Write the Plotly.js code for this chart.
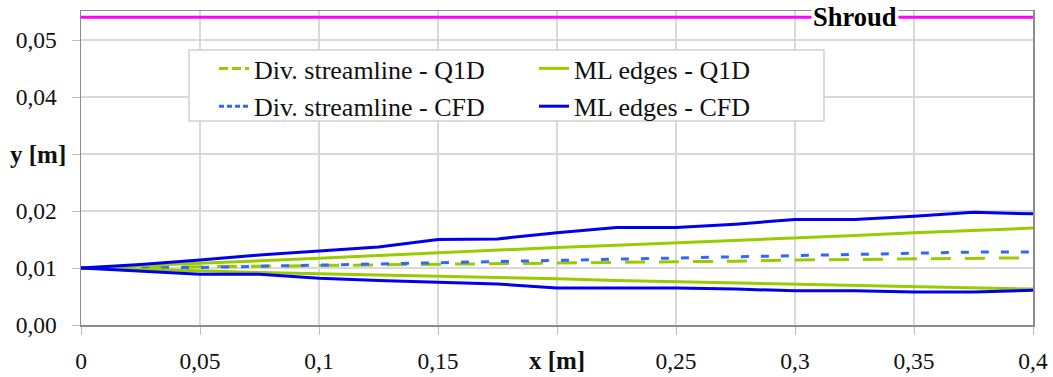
<!DOCTYPE html>
<html>
<head>
<meta charset="utf-8">
<script src="https://cdn.plot.ly/plotly-3.0.1.min.js"></script>
<style>html,body{margin:0;padding:0;background:#fff;}#chart{width:1053px;height:377px;}</style>
</head>
<body>
<div id="chart"></div>
<script>
const xs = [0, 0.025, 0.05, 0.075, 0.1, 0.125, 0.15, 0.175, 0.2, 0.225, 0.25, 0.275, 0.3, 0.325, 0.35, 0.375, 0.4];
const divQ1D = [0.0100, 0.0101, 0.0102, 0.0103, 0.0104, 0.0105, 0.0106, 0.0107, 0.0108, 0.0109, 0.0111, 0.0112, 0.0114, 0.0115, 0.0116, 0.0117, 0.0118];
const divCFD = [0.0100, 0.0100, 0.0101, 0.0103, 0.0105, 0.0107, 0.0110, 0.0111, 0.0113, 0.0115, 0.0117, 0.0119, 0.0122, 0.0124, 0.0126, 0.0128, 0.0128];
const mlQ1DUpper = [0.0100, 0.0104, 0.0108, 0.0113, 0.0117, 0.0122, 0.0127, 0.0131, 0.0136, 0.0140, 0.0144, 0.0148, 0.0152, 0.0157, 0.0162, 0.0166, 0.0170];
const mlQ1DLower = [0.0100, 0.0098, 0.0095, 0.0092, 0.0090, 0.0087, 0.0085, 0.0083, 0.0081, 0.0078, 0.0076, 0.0074, 0.0072, 0.0070, 0.0067, 0.0065, 0.0063];
const mlCFDUpper = [0.0100, 0.0106, 0.0114, 0.0123, 0.0130, 0.0137, 0.0150, 0.0151, 0.0162, 0.0171, 0.0171, 0.0177, 0.0185, 0.0185, 0.0191, 0.0198, 0.0195];
const mlCFDLower = [0.0100, 0.0095, 0.0089, 0.0089, 0.0082, 0.0078, 0.0075, 0.0072, 0.0065, 0.0065, 0.0065, 0.0063, 0.0060, 0.0060, 0.0058, 0.0058, 0.0061];
const shroudX = [0, 0.4];
const shroudY = [0.054, 0.054];
const xTickVals = [0, 0.05, 0.1, 0.15, 0.2, 0.25, 0.3, 0.35, 0.4];
const xTickText = ['0', '0,05', '0,1', '0,15', '<span style="font-size:25px"><b>x [m]</b></span>', '0,25', '0,3', '0,35', '0,4'];
const yTickVals = [0, 0.01, 0.02, 0.03, 0.04, 0.05];
const yTickText = ['0,00', '0,01', '0,02', '', '0,04', '0,05'];
const yTitle = 'y [m]';
const yTitlePos = 0.03;
const legendNames = ['Div. streamline - Q1D', 'Div. streamline - CFD', 'ML edges - Q1D', 'ML edges - CFD'];

const GREEN = '#99cc00';
const BLUE = '#0000ee';
const LBLUE = '#3366ff';
const FONT = '"Liberation Serif", serif';

const traces = [
  {x: shroudX, y: shroudY, mode: 'lines', line: {color: '#ff00ff', width: 3}, showlegend: false, hoverinfo: 'skip'},
  {x: xs, y: divQ1D, mode: 'lines', showlegend: false, line: {color: GREEN, width: 3, dash: '20px,14px'}},
  {x: xs, y: divCFD, mode: 'lines', showlegend: false, line: {color: LBLUE, width: 3, dash: '8px,12px'}},
  {x: xs, y: mlQ1DUpper, mode: 'lines', showlegend: false, line: {color: GREEN, width: 3}},
  {x: xs, y: mlQ1DLower, mode: 'lines', showlegend: false, line: {color: GREEN, width: 3}},
  {x: xs, y: mlCFDUpper, mode: 'lines', showlegend: false, line: {color: BLUE, width: 3}},
  {x: xs, y: mlCFDLower, mode: 'lines', showlegend: false, line: {color: BLUE, width: 3}},
  // legend entries
  {x: [null], y: [null], mode: 'lines', name: legendNames[0], legend: 'legend', legendgroup: 'a', line: {color: GREEN, width: 3, dash: '9px,4px'}},
  {x: [null], y: [null], mode: 'lines', name: legendNames[1], legend: 'legend', legendgroup: 'b', line: {color: LBLUE, width: 3, dash: '5px,3px'}},
  {x: [null], y: [null], mode: 'lines', name: legendNames[2], legend: 'legend2', legendgroup: 'c', line: {color: GREEN, width: 3}},
  {x: [null], y: [null], mode: 'lines', name: legendNames[3], legend: 'legend2', legendgroup: 'd', line: {color: BLUE, width: 3}}
];

const legendCommon = {
  bgcolor: 'rgba(0,0,0,0)', borderwidth: 0,
  font: {family: FONT, size: 26, color: '#111'},
  xanchor: 'left', yanchor: 'top', tracegroupgap: 1, itemwidth: 30, traceorder: 'grouped'
};

const layout = {
  width: 1053, height: 377,
  margin: {l: 81, r: 20, t: 11, b: 52},
  paper_bgcolor: '#fff', plot_bgcolor: '#fff',
  font: {family: FONT, size: 23.5, color: '#111'},
  showlegend: true,
  xaxis: {
    range: [0, 0.4], tickvals: xTickVals, ticktext: xTickText,
    showgrid: true, gridcolor: '#d9d9d9', gridwidth: 1.5,
    showline: true, linecolor: '#8c8c8c', linewidth: 1.5, mirror: true,
    ticks: 'outside', ticklen: 8, tickcolor: '#bfbfbf', ticklabelstandoff: 6,
    zeroline: false, tickfont: {family: FONT, size: 23.5, color: '#111'}
  },
  yaxis: {
    range: [0, 0.0551], tickvals: yTickVals, ticktext: yTickText,
    showgrid: true, gridcolor: '#d9d9d9', gridwidth: 1.5,
    showline: true, linecolor: '#8c8c8c', linewidth: 1.5, mirror: true,
    ticks: 'outside', ticklen: 8, tickcolor: '#bfbfbf', ticklabelstandoff: 10,
    zeroline: false, tickfont: {family: FONT, size: 23.5, color: '#111'}
  },
  legend: Object.assign({}, legendCommon, {x: (214 - 81) / 952, y: (325 - 45) / 314}),
  legend2: Object.assign({}, legendCommon, {x: (534 - 81) / 952, y: (325 - 45) / 314}),
  shapes: [{
    type: 'rect', xref: 'paper', yref: 'paper', layer: 'above',
    x0: (189 - 81) / 952, x1: (824 - 81) / 952, y0: (325 - 121) / 314, y1: (325 - 50) / 314,
    fillcolor: '#fff', line: {color: '#d0d0d0', width: 1.5}
  }],
  annotations: [
    {
      x: 0.325, y: 0.054, xref: 'x', yref: 'y', text: '<b>Shroud</b>', showarrow: false,
      font: {family: FONT, size: 26.5, color: '#000'}, bgcolor: '#fff', borderpad: 1
    },
    {
      x: (68 - 81) / 952, y: yTitlePos, xref: 'paper', yref: 'y', xanchor: 'right', yanchor: 'middle',
      text: '<b>' + yTitle + '</b>', showarrow: false,
      font: {family: FONT, size: 25, color: '#111'}
    }
  ]
};

Plotly.newPlot('chart', traces, layout, {displayModeBar: false, staticPlot: true});
</script>
</body>
</html>
